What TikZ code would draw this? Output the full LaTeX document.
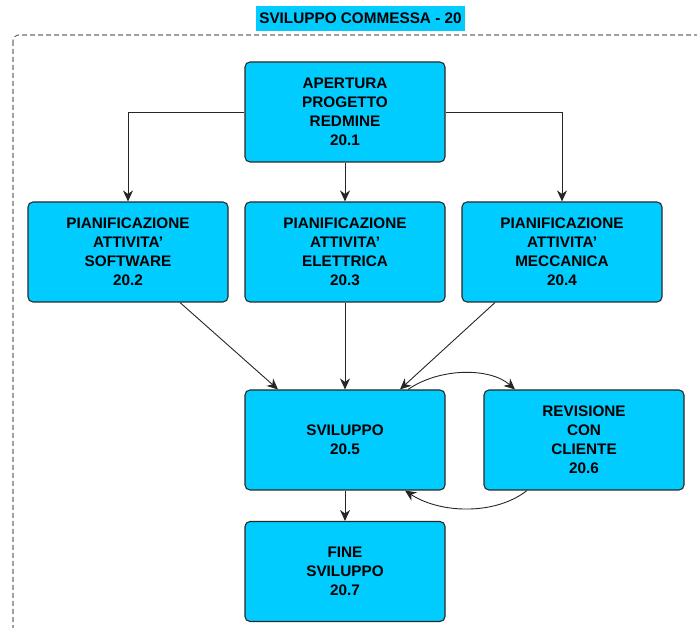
\documentclass[tikz,border=0pt]{standalone}
\usepackage{fontspec}
\setmainfont{Liberation Sans}
\usetikzlibrary{arrows.meta,positioning,calc}
\definecolor{boxcyan}{RGB}{0,204,255}
\definecolor{boxedge}{RGB}{40,40,40}
\definecolor{framegray}{RGB}{110,110,110}
\begin{document}
\begin{tikzpicture}[x=1pt,y=-1pt,
  taskbox/.style={draw=boxedge, line width=1.1pt, fill=boxcyan, rounded corners=5pt,
    minimum width=200pt, minimum height=100pt, inner sep=0pt, align=center,
    font=\fontsize{15.3}{19}\selectfont\bfseries},
  flow/.style={draw=black!85, line width=0.9pt,
    -{Stealth[length=11pt,width=10pt,inset=3.5pt]}},
  titlebox/.style={fill=boxcyan, inner xsep=3pt, inner ysep=0pt,
    minimum height=25pt, font=\fontsize{15.3}{19}\selectfont\bfseries}
]
\useasboundingbox (0,0) rectangle (697,628);
\clip (0,0) rectangle (697,628);

% group frame and its heading
\draw[framegray, line width=1.1pt, dash pattern=on 5pt off 3pt, rounded corners=6pt]
  (13,35) rectangle (730,680);
\node[titlebox] (title) at (360.5,18.5) {SVILUPPO COMMESSA - 20};

% tasks
\node[taskbox] (t1) at (345,112) {APERTURA\\PROGETTO\\REDMINE\\20.1};
\node[taskbox] (t2) at (128,252) {PIANIFICAZIONE\\ATTIVITA'\\SOFTWARE\\20.2};
\node[taskbox] (t3) at (345,252) {PIANIFICAZIONE\\ATTIVITA'\\ELETTRICA\\20.3};
\node[taskbox] (t4) at (562,252) {PIANIFICAZIONE\\ATTIVITA'\\MECCANICA\\20.4};
\node[taskbox] (t5) at (345,440) {SVILUPPO\\20.5};
\node[taskbox] (t6) at (584,440) {REVISIONE\\CON\\CLIENTE\\20.6};
\node[taskbox] (t7) at (345,571.5) {FINE\\SVILUPPO\\20.7};

% connectors
\draw[flow] (t1.west) -| (t2.north);
\draw[flow] (t1.south) -- (t3.north);
\draw[flow] (t1.east) -| (t4.north);
\draw[flow] ([xshift=52pt]t2.south) -- ([xshift=-67pt]t5.north);
\draw[flow] (t3.south) -- (t5.north);
\draw[flow] ([xshift=-67pt]t4.south) -- ([xshift=55pt]t5.north);
\draw[flow] ([xshift=63pt]t5.north) .. controls +(32,-22) and +(-25,-22) .. ([xshift=-69pt]t6.north);
\draw[flow] ([xshift=-57pt]t6.south) .. controls +(-32,25) and +(35,23) .. ([xshift=60pt]t5.south);
\draw[flow] (t5.south) -- (t7.north);
\end{tikzpicture}
\end{document}
